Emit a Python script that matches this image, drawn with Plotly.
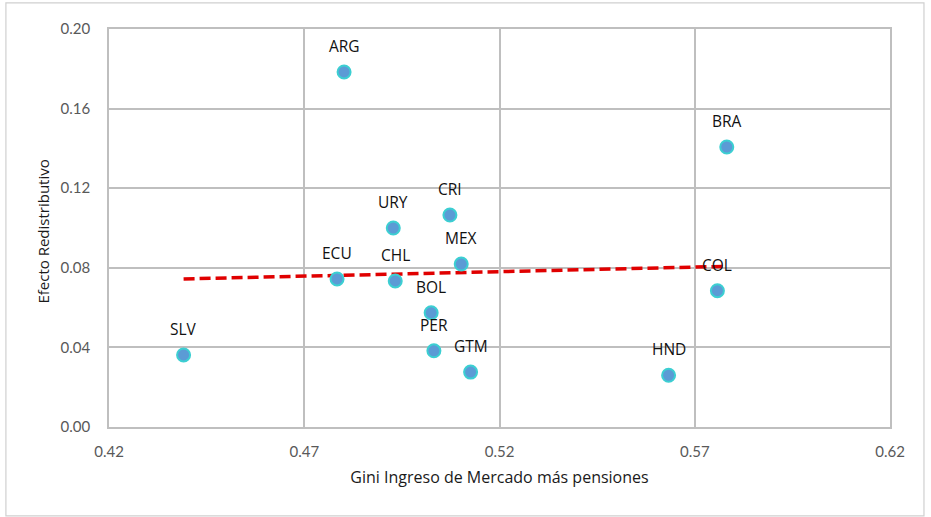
import plotly.graph_objects as go
import numpy as np

# Data
countries = ['ARG', 'BRA', 'CRI', 'URY', 'MEX', 'ECU', 'CHL', 'BOL', 'PER', 'GTM', 'SLV', 'COL', 'HND']
gini_market = [0.4802, 0.5782, 0.5073, 0.4928, 0.5102, 0.4784, 0.4933, 0.5025, 0.5032, 0.5126, 0.4391, 0.5758, 0.5633]
redistrib = [0.1784, 0.1407, 0.1065, 0.1000, 0.0819, 0.0744, 0.0734, 0.0574, 0.0383, 0.0276, 0.0362, 0.0685, 0.0260]

x_ticks = [0.42, 0.47, 0.52, 0.57, 0.62]
y_ticks = [0.00, 0.04, 0.08, 0.12, 0.16, 0.20]

GRID = '#BFBFBF'
TICK_FONT = dict(family='Lato, Carlito, sans-serif', size=15, color='#595959')
TITLE_FONT = dict(family='Open Sans, sans-serif', size=15, color='#1a1a1a')

# Linear trend line (least squares), spanning the data range
slope, intercept = np.polyfit(gini_market, redistrib, 1)
trend_x = [min(gini_market), max(gini_market)]
trend_y = [slope * v + intercept for v in trend_x]

fig = go.Figure()

fig.add_trace(go.Scatter(
    x=trend_x, y=trend_y, mode='lines',
    line=dict(color='#E00000', width=3.5, dash='11px,5px'),
    hoverinfo='skip', showlegend=False
))

fig.add_trace(go.Scatter(
    x=gini_market, y=redistrib, mode='markers',
    marker=dict(size=13, color='#5B9BD5', line=dict(color='#3CCFD2', width=2)),
    text=countries, hovertemplate='%{text}: %{x:.3f}, %{y:.3f}<extra></extra>',
    showlegend=False
))

for name, gx, ry in zip(countries, gini_market, redistrib):
    fig.add_annotation(
        x=gx, y=ry, text=name, showarrow=False, yshift=26,
        font=dict(family='Open Sans, sans-serif', size=15.5, color='#111111')
    )

# y axis title placed by hand to sit like the original
fig.add_annotation(
    xref='paper', yref='paper', x=-0.085, y=0.49, xanchor='center', yanchor='middle',
    text='Efecto Redistributivo', textangle=-90, showarrow=False, font=TITLE_FONT
)

# outer chart border
fig.add_shape(type='rect', xref='paper', yref='paper',
              x0=-0.132, x1=1.0435, y0=-0.2235, y1=1.0655,
              line=dict(color='#D0D0D0', width=1.2))

fig.update_layout(
    width=931, height=517,
    margin=dict(l=109, r=41, t=29, b=90),
    paper_bgcolor='white', plot_bgcolor='white',
    font=dict(family='Lato, Carlito, sans-serif'),
    xaxis=dict(
        range=[0.42, 0.62], tickvals=x_ticks, ticktext=[f'{v:.2f}' for v in x_ticks],
        showgrid=True, gridcolor=GRID, gridwidth=1.5,
        showline=True, linecolor=GRID, linewidth=1.5, mirror=True,
        zeroline=False, ticks='', tickfont=TICK_FONT, ticklabelstandoff=10,
        title=dict(text='Gini Ingreso de Mercado más pensiones', standoff=13,
                   font=dict(family='Open Sans, sans-serif', size=16, color='#1a1a1a'))
    ),
    yaxis=dict(
        range=[0, 0.20], tickvals=y_ticks, ticktext=[f'{v:.2f}' for v in y_ticks],
        showgrid=True, gridcolor=GRID, gridwidth=1.5,
        showline=True, linecolor=GRID, linewidth=1.5, mirror=True,
        zeroline=False, ticks='', tickfont=TICK_FONT, ticklabelstandoff=14
    ),
)

fig.write_html('out.html', config={'displayModeBar': False},
               post_script="document.body.style.margin='0';")
